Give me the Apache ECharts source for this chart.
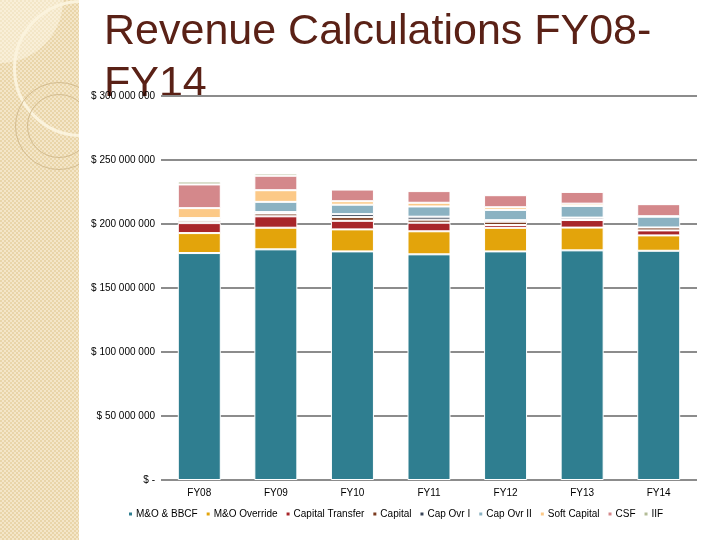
<!DOCTYPE html>
<html><head><meta charset="utf-8">
<script src="https://cdn.jsdelivr.net/npm/echarts@6/dist/echarts.min.js"></script>
<style>
html,body{margin:0;padding:0;background:#fff;width:720px;height:540px;overflow:hidden;}
#strip{position:absolute;left:0;top:0;width:79px;height:540px;overflow:hidden;
 background-color:#eedcb2;
 background-image:repeating-conic-gradient(#f4e6c8 0 25%, #e9d5a9 0 50%);
 background-size:4px 4px;}
.c{position:absolute;border-radius:50%;box-sizing:border-box;}
#chart{position:absolute;left:0;top:0;width:720px;height:540px;}
</style></head>
<body>
<div id="strip">
  <div class="c" style="left:-63px;top:-63px;width:126px;height:126px;background:rgba(255,250,236,0.45);"></div>
  <div class="c" style="left:13px;top:0px;width:137px;height:137px;border:3px solid #fbf3dd;"></div>
  <div class="c" style="left:15px;top:82px;width:88px;height:88px;border:1px solid #d3bc90;"></div>
  <div class="c" style="left:27px;top:94px;width:64px;height:64px;border:1px solid #d3bc90;"></div>
</div>
<div id="chart"></div>
<script>
const categories = ['FY08','FY09','FY10','FY11','FY12','FY13','FY14'];
const seriesNames = ['M&O & BBCF','M&O Override','Capital Transfer','Capital','Cap Ovr I','Cap Ovr II','Soft Capital','CSF','IIF'];
// values in millions of dollars
const moBBCF     = [177.3, 180.2, 178.6, 176.3, 178.6, 179.4, 179.1];
const moOverride = [15.6, 16.9, 17.2, 18.0, 18.4, 17.8, 12.0];
const capTransfer= [7.8, 8.9, 6.7, 6.7, 2.2, 5.9, 3.9];
const capital    = [1.8, 2.2, 2.9, 2.4, 2.6, 0.5, 2.3];
const capOvrI    = [1.0, 1.1, 2.3, 2.3, 1.2, 1.4, 0];
const capOvrII   = [1.1, 8.0, 7.4, 8.0, 8.0, 9.1, 8.4];
const softCapital= [7.8, 9.1, 2.7, 2.9, 2.1, 1.8, 0.4];
const csf        = [18.5, 11.3, 9.1, 9.1, 9.4, 9.2, 9.4];
const iif        = [2.3, 1.8, 0.8, 0.8, 0.8, 0, 0];
const yTickLabels = ['$ -','$ 50 000 000','$ 100 000 000','$ 150 000 000','$ 200 000 000','$ 250 000 000','$ 300 000 000'];

const seriesData = [moBBCF, moOverride, capTransfer, capital, capOvrI, capOvrII, softCapital, csf, iif];
const colors = ['#2f7e90','#e3a40b','#a8262a','#7b3a1e','#394558','#8bb2c2','#fcc987','#d4888b','#b3bc96'];

const chart = echarts.init(document.getElementById('chart'), null, {renderer:'canvas'});
const font = '"Liberation Sans", Arial, sans-serif';
const titleStyle = {fontSize:43, fontFamily:font, fill:'#5a2116',
  shadowColor:'rgba(120,100,90,0.35)', shadowOffsetX:2, shadowOffsetY:2, shadowBlur:2};
chart.setOption({
  animation:false,
  backgroundColor:'transparent',
  color: colors,
  graphic:[
    {type:'text', left:104, top:11, z:0, silent:true,
     style:Object.assign({text:'Revenue Calculations FY08-'}, titleStyle)},
    {type:'text', left:104, top:63, z:0, silent:true,
     style:Object.assign({text:'FY14'}, titleStyle)}
  ],
  grid:{left:161, right:23, top:96, bottom:60, containLabel:false},
  legend:{
    left:127, top:509, padding:0, icon:'rect', itemWidth:5, itemHeight:5, itemGap:7,
    textStyle:{fontSize:10, fontFamily:font, color:'#000', padding:[0,0,0,-2]},
    data: seriesNames
  },
  xAxis:{
    type:'category', data:categories,
    axisLine:{show:false}, axisTick:{show:false},
    axisLabel:{fontSize:10, fontFamily:font, color:'#000', margin:8}
  },
  yAxis:{
    type:'value', min:0, max:300, interval:50,
    axisLine:{show:false}, axisTick:{show:false},
    axisLabel:{fontSize:10, fontFamily:font, color:'#000', margin:6,
      formatter:(v)=>yTickLabels[Math.round(v/50)]},
    splitLine:{lineStyle:{color:'#8c8c8c', width:2}}
  },
  series: seriesNames.map((name,i)=>({
    name, type:'bar', stack:'total', barWidth:43,
    data: seriesData[i],
    itemStyle:{color:colors[i], borderColor:'#fff', borderWidth:1},
    emphasis:{disabled:true}
  }))
});
</script>
</body></html>
